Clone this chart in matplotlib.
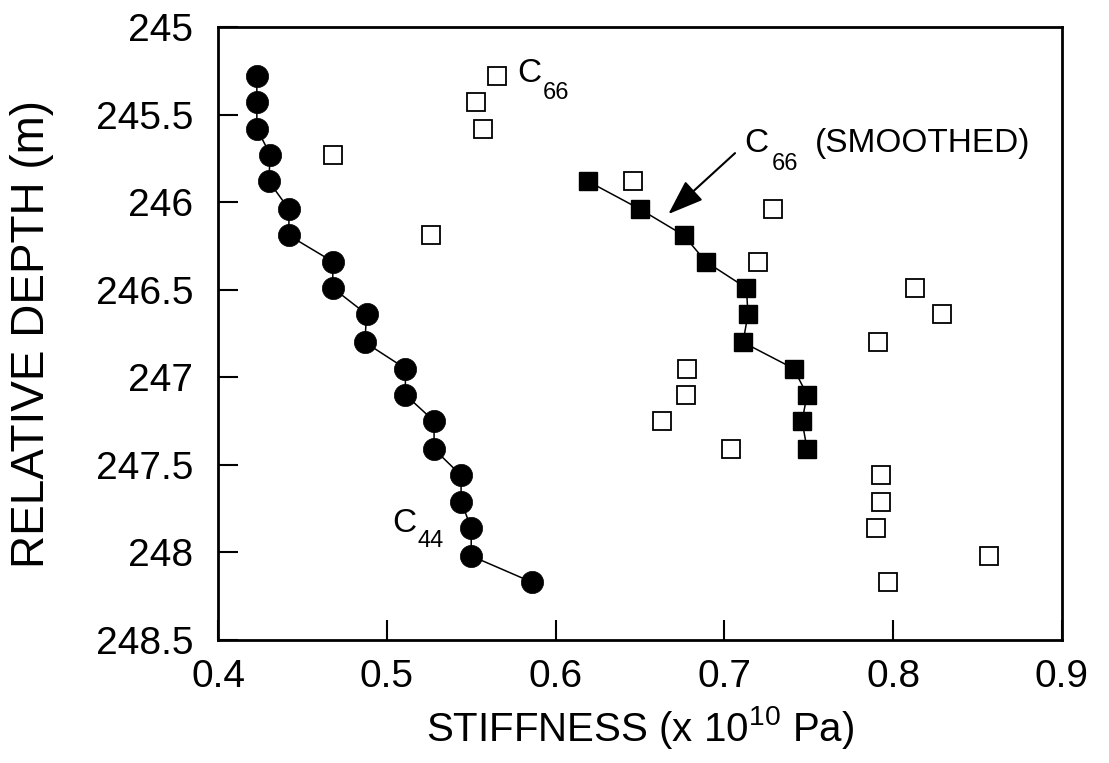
import matplotlib
matplotlib.use("Agg")
import matplotlib.pyplot as plt

plt.rcParams["font.family"] = ["Liberation Sans", "DejaVu Sans"]
plt.rcParams["mathtext.fontset"] = "custom"
plt.rcParams["mathtext.rm"] = "Liberation Sans"
plt.rcParams["mathtext.default"] = "regular"

# relative depth (m) of each measurement level
depth = [245.28, 245.43, 245.58, 245.73, 245.88, 246.04, 246.19, 246.34,
         246.49, 246.64, 246.80, 246.95, 247.10, 247.25, 247.41, 247.56,
         247.71, 247.86, 248.02, 248.17]

# stiffness (x 1e10 Pa)
c44 = [0.423, 0.423, 0.423, 0.431, 0.430, 0.442, 0.442, 0.468, 0.468, 0.488,
       0.487, 0.511, 0.511, 0.528, 0.528, 0.544, 0.544, 0.550, 0.550, 0.586]
c66 = [0.565, 0.553, 0.557, 0.468, 0.646, 0.729, 0.526, 0.720, 0.813, 0.829,
       0.791, 0.678, 0.677, 0.663, 0.704, 0.793, 0.793, 0.790, 0.857, 0.797]

smooth_depth = depth[4:15]
c66_smooth = [0.619, 0.650, 0.676, 0.689, 0.713, 0.714, 0.711, 0.741, 0.749,
              0.746, 0.749]

fig = plt.figure(figsize=(11.09, 7.63), dpi=100)
ax = fig.add_axes([0.1966, 0.1612, 0.761, 0.8034])

ax.plot(c44, depth, "-o", color="black", lw=1.1, ms=16, mew=0.5)
ax.plot(c66, depth, "s", color="black", mfc="white", ms=13.5, mew=1.3, ls="none")
ax.plot(c66_smooth, smooth_depth, "-s", color="black", lw=1.1, ms=13.5, mew=1)

ax.set_xlim(0.4, 0.9)
ax.set_ylim(248.5, 245)
ax.set_xticks([0.4, 0.5, 0.6, 0.7, 0.8, 0.9])
ax.set_yticks([245, 245.5, 246, 246.5, 247, 247.5, 248, 248.5])
ax.set_xticklabels(["0.4", "0.5", "0.6", "0.7", "0.8", "0.9"])
ax.set_yticklabels(["245", "245.5", "246", "246.5", "247", "247.5", "248", "248.5"])
ax.tick_params(direction="in", length=14.5, width=1.5, labelsize=28,
               top=False, right=False)
ax.tick_params(axis="y", pad=18)
ax.tick_params(axis="x", pad=14)
for s in ax.spines.values():
    s.set_linewidth(2)

ax.set_xlabel("STIFFNESS (x 10$^{10}$ Pa)", fontsize=29, labelpad=6)
ax.set_ylabel("RELATIVE DEPTH (m)", fontsize=33, labelpad=30)

# curve labels
ax.text(0.5771, 245.314, "C", fontsize=24, va="baseline")
ax.text(0.5925, 245.411, "66", fontsize=17, va="baseline")

ax.text(0.5031, 247.884, "C", fontsize=24, va="baseline")
ax.text(0.5179, 247.970, "44", fontsize=17, va="baseline")

ax.text(0.7116, 245.714, "C", fontsize=24, va="baseline")
ax.text(0.7282, 245.817, "66", fontsize=17, va="baseline")
ax.text(0.7537, 245.714, "(SMOOTHED)", fontsize=24, va="baseline")

ax.annotate("", xy=(0.6668, 246.068), xytext=(0.7063, 245.72),
            arrowprops=dict(arrowstyle="-|>,head_length=1.1,head_width=0.4",
                            mutation_scale=20, lw=1.5, color="black",
                            shrinkA=0, shrinkB=0))

fig.savefig("out.png", dpi=100)
